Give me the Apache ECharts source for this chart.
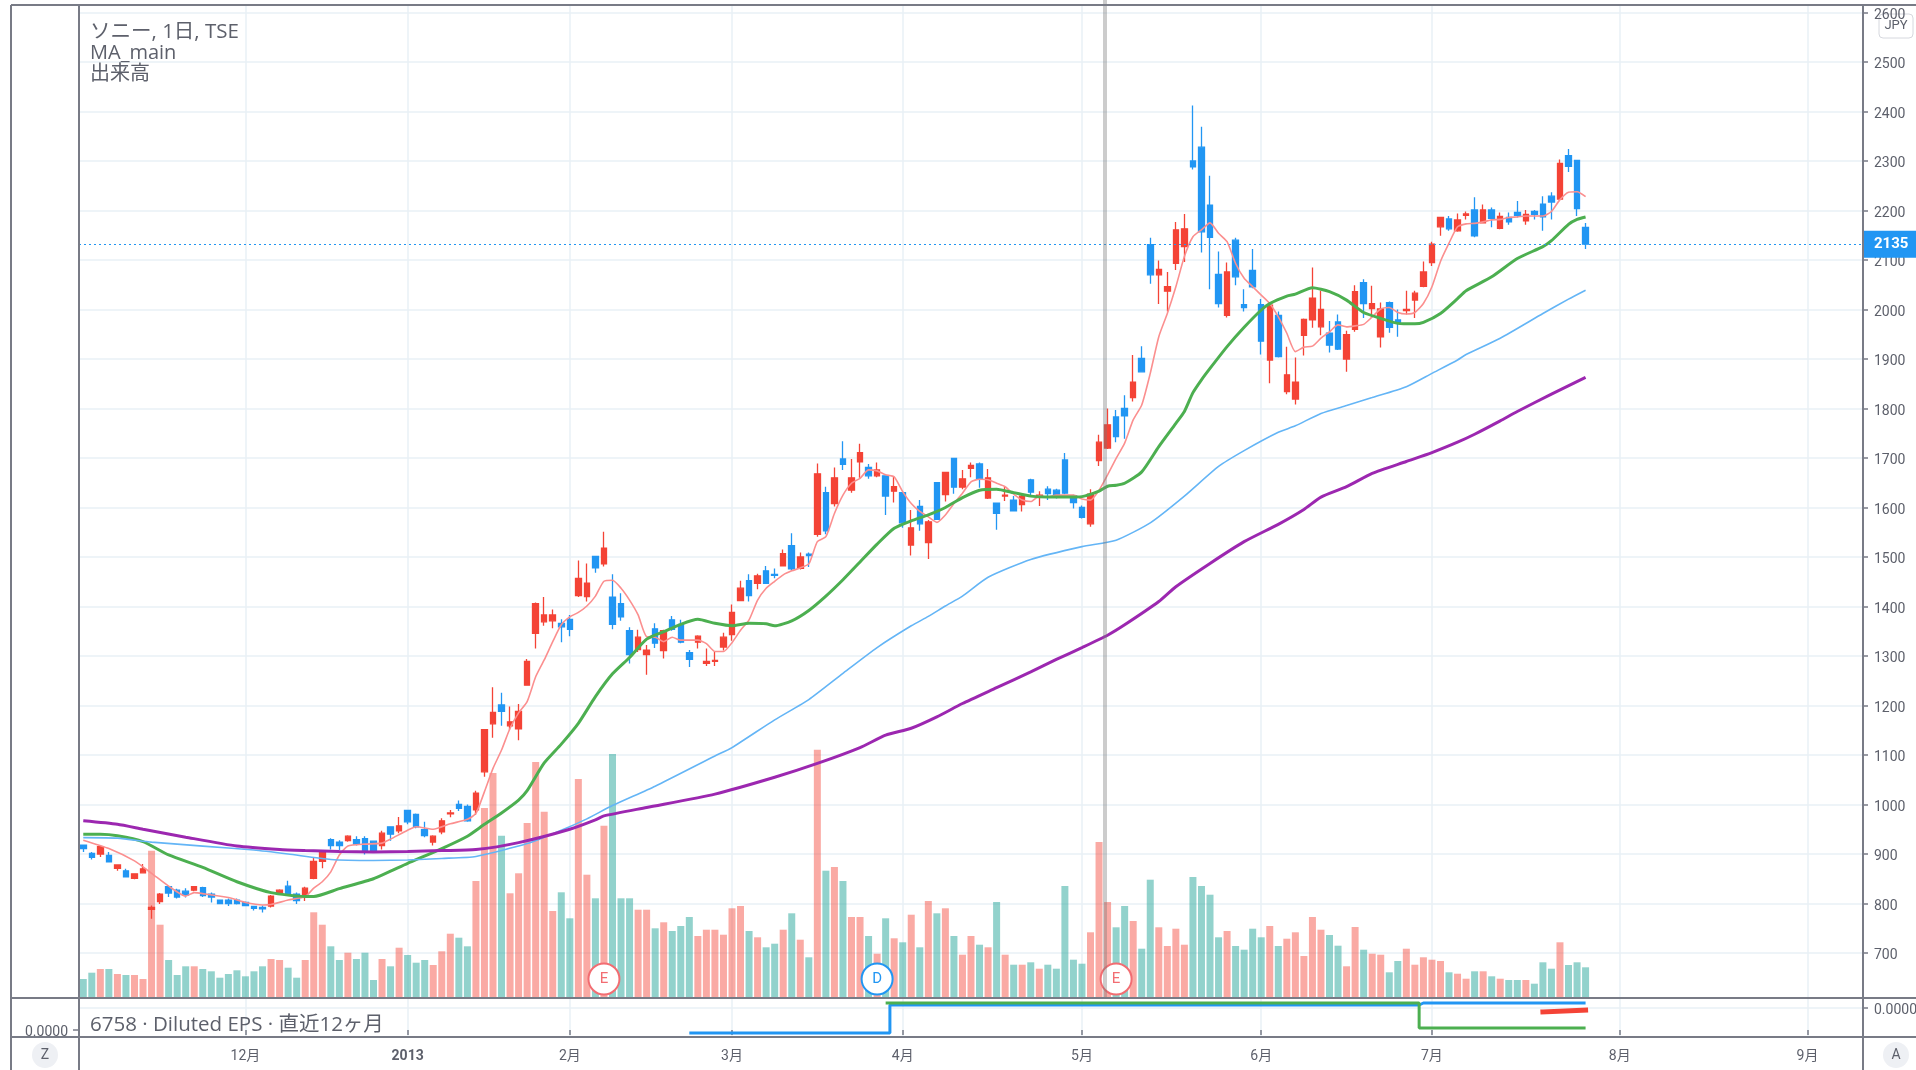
<!DOCTYPE html>
<html>
<head>
<meta charset="utf-8">
<title>ソニー 1日</title>
<script src="https://cdn.jsdelivr.net/npm/echarts@6/dist/echarts.min.js"></script>
<style>
html,body{margin:0;padding:0;background:#fff;overflow:hidden}
#chart{width:1916px;height:1070px}
</style>
</head>
<body>
<div id="chart"></div>
<script>
// bar slots, the right part of the axis stays empty like in the screenshot
var slotCount = 209;
var monthLabels = {19:'12月',38:'2013',57:'2月',76:'3月',96:'4月',117:'5月',138:'6月',158:'7月',180:'8月',202:'9月'};

// open, close, low, high
var candles = [
[918,911,904,918],[901,893,889,904],[900,915,894,916],[897,884,884,904],[871,878,866,879],[866,854,853,870],[851,860,849,861],[862,870,861,880],
[788,792,769,796],[804,819,799,821],[834,821,813,835],[827,813,810,830],[825,817,812,831],[827,834,825,835],[832,816,813,834],[819,813,802,822],
[807,800,799,808],[807,800,795,810],[807,800,798,810],[802,796,795,804],[794,790,786,795],[792,789,782,796],[795,815,792,817],[819,827,817,829],
[835,817,816,846],[819,806,799,822],[813,831,805,834],[851,885,849,893],[885,905,871,907],[929,917,909,932],[924,917,908,928],[927,936,925,938],
[929,920,917,936],[931,904,899,936],[926,904,903,926],[917,942,909,947],[955,940,927,955],[947,957,942,975],[988,965,960,988],[980,955,952,982],
[949,937,934,965],[924,936,917,938],[945,967,940,972],[981,983,974,989],[1000,992,987,1008],[996,967,965,1000],[989,1023,979,1028],[1066,1151,1056,1152],
[1163,1186,1135,1237],[1201,1188,1159,1226],[1159,1167,1151,1198],[1153,1188,1130,1203],[1241,1289,1240,1294],[1346,1406,1315,1408],[1369,1383,1361,1419],[1371,1383,1356,1394],
[1366,1359,1328,1374],[1374,1354,1340,1383],[1422,1457,1419,1493],[1420,1447,1410,1487],[1501,1478,1468,1502],[1486,1518,1481,1551],[1419,1364,1354,1465],[1406,1379,1371,1427],
[1351,1303,1285,1358],[1313,1338,1308,1353],[1303,1312,1262,1322],[1355,1326,1316,1366],[1311,1351,1295,1353],[1373,1354,1351,1381],[1364,1328,1326,1373],[1307,1293,1278,1312],
[1328,1340,1315,1342],[1285,1289,1280,1315],[1289,1291,1280,1309],[1318,1338,1311,1347],[1343,1388,1331,1404],[1412,1437,1412,1452],[1452,1422,1410,1465],[1447,1462,1435,1466],
[1472,1447,1447,1482],[1465,1463,1457,1477],[1482,1507,1481,1515],[1523,1476,1472,1548],[1477,1500,1475,1509],[1506,1503,1480,1509],[1546,1668,1541,1689],[1630,1553,1546,1642],
[1608,1660,1602,1681],[1698,1687,1676,1734],[1635,1660,1630,1698],[1692,1711,1660,1729],[1681,1664,1658,1688],[1664,1676,1661,1691],[1664,1623,1585,1664],[1633,1642,1610,1662],
[1630,1569,1559,1632],[1524,1559,1503,1595],[1602,1567,1553,1615],[1529,1571,1496,1575],[1650,1576,1575,1650],[1626,1671,1612,1672],[1699,1641,1628,1699],[1641,1658,1637,1676],
[1679,1685,1661,1691],[1688,1657,1640,1691],[1619,1660,1617,1678],[1609,1588,1555,1609],[1623,1625,1613,1642],[1615,1593,1592,1623],[1606,1623,1592,1627],[1656,1631,1625,1658],
[1623,1625,1603,1633],[1637,1628,1615,1643],[1635,1625,1618,1638],[1696,1629,1627,1710],[1624,1610,1598,1626],[1600,1580,1578,1604],[1567,1627,1561,1637],[1695,1732,1684,1747],
[1720,1767,1718,1800],[1783,1743,1732,1797],[1800,1785,1739,1827],[1822,1853,1814,1908],[1901,1874,1874,1926],[2131,2070,2052,2145],[2070,2081,2011,2099],[2037,2046,1996,2076],
[2093,2161,2080,2177],[2127,2163,2096,2193],[2300,2288,2283,2412],[2328,2157,2115,2369],[2211,2146,2041,2270],[2071,2012,2004,2117],[1988,2076,1984,2095],[2140,2066,2049,2145],
[2010,2004,1996,2041],[2079,2046,2043,2122],[2010,1936,1909,2021],[1898,2009,1851,2009],[1988,1905,1903,1996],[1834,1868,1829,1925],[1819,1853,1808,1903],[1948,1980,1907,1982],
[1979,2023,1963,2085],[1965,2000,1948,2038],[1952,1928,1913,1977],[1975,1920,1918,1990],[1900,1949,1874,1957],[1960,2036,1955,2049],[2054,2012,1983,2061],[2002,2012,1983,2048],
[1945,2001,1923,2014],[2014,1964,1953,2016],[1979,1972,1945,2000],[1998,2000,1990,2038],[2019,2033,1983,2038],[2047,2076,2045,2097],[2095,2132,2088,2137],[2167,2186,2149,2186],
[2183,2163,2159,2189],[2159,2181,2157,2194],[2190,2193,2182,2198],[2201,2149,2146,2227],[2175,2201,2174,2212],[2201,2184,2166,2206],[2164,2188,2162,2196],[2186,2177,2171,2196],
[2196,2190,2186,2219],[2179,2192,2171,2201],[2198,2192,2182,2201],[2213,2187,2159,2229],[2229,2217,2182,2237],[2223,2295,2221,2303],[2311,2289,2278,2324],[2301,2204,2189,2301],
[2166,2132,2122,2175]
];

var volumes = [
19,25.3,29,29,24,23,23,19,147.3,73.3,38,23,31.7,31.7,29,26.7,20.3,24,27.7,21.7,26.7,31.7,39,38,30.3,20.3,38,85.7,73.3,51.7,38,45.3,39,45.3,18,39,31.7,50.3,43,35.3,
38,33,46.7,64.3,60.3,51.7,117,190,225,162.3,104.7,124.7,175,236,186.3,87,105.7,79.7,219,123.3,99.7,172.3,244,99.7,99.7,88.3,88.3,69.7,75.7,67,72,81,62,68.3,68.3,63.3,89.7,92,67,60.7,
50.7,54.3,68.3,84.7,58.3,40.7,248.3,127.3,131,117,81,81,62,44.3,79.7,59.7,55.7,83.3,50.7,97,84.7,89.7,62,43.3,62,53.3,50.7,96,43.3,33.3,33.3,35.7,29.3,33.3,29.3,112,38.3,34.3,65.7,156,
96,70.7,92,77,49.3,118.3,70.7,52,69.3,53.3,121,112,103.3,60.7,67,52,48.3,69.3,60.7,72,52,59.3,65.7,42,81,68.3,63,52.3,31.7,71,48.3,44.3,43.3,25.7,37,49.3,33.3,40.7,38.3,37,
25.7,24.3,19.3,26.7,26.7,21.7,19.3,18,18,18,14.3,35.7,29.3,55.7,33,35.7,30.7
];

// moving averages: [bar, price]
var maPink = [[0,928],[3,911],[6,886],[8,861],[10,835],[12,815],[13,822],[14,820],[17,812],[19,802],[21,797],[22,798],[24,807],[26,814],[27,831],[28,844],[29,864],[30,898],[31,916],[33,920],[35,922],[36,930],[38,948],[39,955],[41,950],[43,961],[45,970],
[46,982],[47,1026],[48,1073],[49,1110],[50,1154],[51,1185],[52,1208],[53,1258],[54,1292],[55,1329],[56,1363],[57,1379],[58,1388],[59,1401],[60,1421],[61,1451],[62,1453],[63,1437],[64,1413],[65,1383],[66,1339],[67,1338],[68,1329],[69,1338],[70,1332],[71,1332],[72,1332],[73,1325],[74,1309],[75,1309],[76,1327],[77,1352],[78,1373],[79,1413],[80,1437],[81,1451],[82,1464],[83,1472],[84,1478],[85,1486],
[86,1531],[87,1541],[88,1588],[89,1625],[90,1649],[91,1659],[92,1676],[93,1674],[94,1666],[95,1662],[96,1632],[97,1608],[98,1592],[99,1581],[100,1570],[101,1585],[102,1608],[103,1629],[104,1652],[105,1657],[106,1656],[107,1649],[108,1642],[109,1627],[110,1615],[111,1612],[112,1623],[113,1621],[114,1625],[115,1625],[116,1625],[117,1617],[118,1615],[119,1635],[120,1666],[121,1699],[122,1730],[123,1777],
[124,1807],[125,1871],[126,1945],[127,1992],[128,2046],[129,2107],[130,2147],[131,2161],[132,2175],[133,2154],[134,2137],[135,2093],[136,2063],[137,2046],[138,2029],[139,2012],[140,1985],[141,1952],[142,1915],[143,1924],[144,1926],[145,1942],[146,1955],[147,1969],[148,1965],[149,1967],[150,1970],[151,1985],[152,2001],[153,2004],[154,1994],[155,1991],[156,1994],[157,2012],[158,2046],[159,2097],[160,2134],[161,2167],[162,2173],[163,2174],[164,2177],[165,2181],[166,2182],[167,2186],[168,2187],[169,2189],[170,2189],[171,2189],[172,2198],[173,2222],[174,2237],[175,2238],[176,2228]];

var maGreen = [[0,940],[2,940],[4,937],[7,925],[10,898],[14,873],[18,844],[22,822],[26,814],[27,814],[30,830],[34,850],[38,881],[42,911],[45,936],[47,960],[49,983],[51,1009],[52,1028],[54,1084],[56,1122],[58,1164],[60,1218],[62,1264],[64,1297],[66,1334],[68,1349],[70,1364],[72,1374],[74,1366],[76,1361],[78,1366],[80,1365],[81,1361],[83,1371],[85,1392],[87,1421],[89,1454],[91,1490],[93,1526],[95,1558],[97,1573],[99,1585],[101,1600],[103,1620],[105,1635],[107,1637],[109,1630],[111,1623],[113,1621],[115,1621],[117,1622],[119,1633],[120,1643],[121,1645],[122,1649],[124,1672],[126,1723],[128,1770],[129,1794],[130,1832],[131,1858],[132,1881],[134,1925],[136,1964],[138,1999],[139,2012],[141,2027],[142,2031],[144,2044],[146,2036],[148,2019],[150,1994],[152,1982],[154,1972],[156,1971],[157,1974],[159,1992],[161,2022],[162,2038],[165,2066],[168,2103],[171,2127],[172,2139],[174,2172],[175,2182],[176,2187]];

var maBlue = [[0,933],[4,932],[8,924],[14,916],[20,908],[24,900],[29,889],[34,887],[38,888],[42,891],[46,895],[52,921],[56,948],[59,971],[62,998],[67,1037],[74,1098],[76,1115],[81,1171],[85,1212],[89,1265],[93,1317],[97,1361],[99,1380],[101,1401],[103,1421],[106,1459],[111,1495],[117,1521],[121,1534],[125,1569],[129,1623],[133,1683],[136,1715],[140,1752],[142,1765],[145,1790],[148,1806],[151,1822],[155,1844],[158,1871],[161,1898],[162,1909],[166,1942],[171,1992],[174,2021],[176,2039]];

var maPurple = [[0,967],[4,960],[7,950],[12,934],[18,916],[23,909],[26,907],[30,905],[34,904],[38,905],[42,907],[46,909],[51,923],[57,950],[60,969],[61,977],[66,994],[74,1021],[81,1055],[86,1083],[91,1115],[94,1140],[97,1154],[100,1177],[103,1204],[107,1236],[111,1268],[114,1293],[117,1317],[120,1342],[122,1363],[126,1410],[128,1440],[132,1487],[136,1531],[140,1566],[143,1596],[145,1621],[148,1642],[151,1669],[155,1693],[158,1711],[161,1732],[163,1748],[166,1775],[168,1794],[172,1829],[176,1863]];

// lower pane
var epsBlue = [[71,-0.0003],[94,-0.0003],[95,0.0025],[156,0.0025],[157,0.0027],[176,0.0027]];
var epsGreen = [[94,0.0027],[156,0.0027],[157,0.0002],[176,0.0002]];
var epsRed = [[171,-0.0004],[176,-0.0002]];

var events = [[61,'E'],[93,'D'],[121,'E']];
var lastPriceLabel = '2135';
var lastPriceLevel = 2132;

var upColor = '#f44336';
var downColor = '#2196f3';
var textColor = '#5d606b';
var lineColor = '#787b86';
var gridColor = '#e9f0f6';
var fontName = 'Roboto, "Noto Sans CJK JP", sans-serif';
var legendFont = '"Open Sans", "Noto Sans CJK JP", sans-serif';

var categories = [];
for (var i = 0; i < slotCount; i++) categories.push(monthLabels[i] || '');
function isMonth(index) { return !!monthLabels[index]; }

// the axis labels sit slightly lower than their ticks in the original
var shiftedLabel = {a:{padding:[5,0,0,0], color:textColor, fontSize:14, fontFamily:fontName}};

function frameLine(x1, y1, x2, y2) {
    return {type:'line', z:20, silent:true, shape:{x1:x1,y1:y1,x2:x2,y2:y2}, style:{stroke:lineColor, lineWidth:2}};
}
function frameText(x, y, str, size) {
    return {type:'text', z:30, silent:true, x:x, y:y, style:{text:str, fill:textColor, font:size+'px '+legendFont, textVerticalAlign:'middle'}};
}
function roundButton(cx, cy, str) {
    return {type:'group', z:30, silent:true, children:[
        {type:'circle', shape:{cx:cx,cy:cy,r:13}, style:{fill:'#eef0f4'}},
        {type:'text', x:cx, y:cy, style:{text:str, fill:textColor, font:'14px '+fontName, textAlign:'center', textVerticalAlign:'middle'}}
    ]};
}

var myChart = echarts.init(document.getElementById('chart'));
var option = {
    animation: false,
    backgroundColor: '#fff',
    grid: [
        {left:79, width:1784, top:12.5, height:990, outerBoundsMode:'none'},
        {left:79, width:1784, top:5, height:993, outerBoundsMode:'none'},
        {left:79, width:1784, top:998, height:39, outerBoundsMode:'none'}
    ],
    xAxis: [
        {type:'category', gridIndex:0, data:categories, show:false},
        {type:'category', gridIndex:1, data:categories,
            axisLine:{show:false}, axisTick:{show:false}, axisLabel:{show:false},
            splitLine:{show:true, alignWithLabel:true, interval:function(i){return isMonth(i);}, lineStyle:{color:gridColor, width:1.5}}},
        {type:'category', gridIndex:2, data:categories,
            axisLine:{show:false},
            axisTick:{show:true, length:5, alignWithLabel:true, interval:function(i){return isMonth(i);}, lineStyle:{color:lineColor, width:1.5}},
            splitLine:{show:true, alignWithLabel:true, interval:function(i){return isMonth(i);}, lineStyle:{color:gridColor, width:1.5}},
            axisLabel:{interval:function(i){return isMonth(i);}, margin:12, color:textColor, fontSize:14, fontFamily:fontName, hideOverlap:false,
                formatter:function(v){return v === '2013' ? '{b|2013}' : v;},
                rich:{b:{fontWeight:'bold', fontSize:14, color:textColor, fontFamily:fontName}}}}
    ],
    yAxis: [
        {type:'value', gridIndex:0, position:'right', min:600, max:2600, interval:100,
            axisLine:{show:false}, axisTick:{show:true, length:5, lineStyle:{color:lineColor, width:1.5}},
            axisLabel:{margin:11, showMinLabel:false, rich:shiftedLabel, formatter:function(v){return '{a|'+v+'}';}},
            splitLine:{show:true, showMinLine:false, lineStyle:{color:gridColor, width:1.5}}},
        {type:'value', gridIndex:1, min:0, max:993, show:false, splitLine:{show:false}},
        {type:'value', gridIndex:2, position:'left', min:-0.0007, max:0.0032,
            axisLine:{show:false}, axisTick:{show:true, length:6, customValues:[0], lineStyle:{color:lineColor, width:1.5}},
            axisLabel:{customValues:[0], margin:11, rich:shiftedLabel, formatter:function(v){return '{a|'+v.toFixed(4)+'}';}},
            splitLine:{show:false}},
        {type:'value', gridIndex:2, position:'right', min:-0.0029, max:0.001,
            axisLine:{show:false}, axisTick:{show:true, length:5, customValues:[0], lineStyle:{color:lineColor, width:1.5}},
            axisLabel:{customValues:[0], margin:11, rich:shiftedLabel, formatter:function(v){return '{a|'+v.toFixed(4)+'}';}},
            splitLine:{show:true, lineStyle:{color:gridColor, width:1.5}}}
    ],
    series: [
        {
            name:'出来高', type:'bar', xAxisIndex:1, yAxisIndex:1, barWidth:7, z:1, silent:true,
            data: volumes.map(function(v, k){
                var up = candles[k][1] >= candles[k][0];
                return {value:v, itemStyle:{color: up ? 'rgba(244,67,54,0.45)' : 'rgba(38,166,154,0.5)'}};
            })
        },
        {
            name:'ソニー', type:'candlestick', xAxisIndex:0, yAxisIndex:0, barWidth:6, z:3, silent:true,
            itemStyle:{color:upColor, color0:downColor, borderColor:upColor, borderColor0:downColor, borderWidth:1.3},
            data:candles,
            markLine:{
                silent:true, symbol:'none', animation:false,
                lineStyle:{color:downColor, type:[2,3], width:1.2},
                label:{show:true, position:'end', distance:0, formatter:lastPriceLabel, color:'#fff', fontSize:15, fontWeight:'bold', fontFamily:fontName,
                    backgroundColor:downColor, padding:[7,11,5,11]},
                data:[{yAxis:lastPriceLevel}]
            }
        },
        {name:'MA1', type:'line', xAxisIndex:0, yAxisIndex:0, z:4, silent:true, showSymbol:false, smooth:0.2, data:maPink, lineStyle:{color:'#fb8f8f', width:1.6}},
        {name:'MA2', type:'line', xAxisIndex:0, yAxisIndex:0, z:4, silent:true, showSymbol:false, smooth:0.2, data:maGreen, lineStyle:{color:'#4caf50', width:3}},
        {name:'MA3', type:'line', xAxisIndex:0, yAxisIndex:0, z:4, silent:true, showSymbol:false, smooth:0.2, data:maBlue, lineStyle:{color:'#64b5f6', width:1.6}},
        {name:'MA4', type:'line', xAxisIndex:0, yAxisIndex:0, z:4, silent:true, showSymbol:false, smooth:0.2, data:maPurple, lineStyle:{color:'#9c27b0', width:3}},
        {
            name:'events', type:'scatter', xAxisIndex:1, yAxisIndex:1, z:6, silent:true, symbol:'circle', symbolSize:31,
            data: events.map(function(e){
                var c = e[1] === 'D' ? '#2196f3' : '#f26d72';
                return {value:[e[0],19], itemStyle:{color:'#fff', opacity:1, borderColor:c, borderWidth:2},
                    label:{show:true, position:'inside', formatter:e[1], color:c, fontSize:15, fontFamily:fontName}};
            })
        },
        {name:'EPS', type:'line', xAxisIndex:2, yAxisIndex:2, z:4, silent:true, step:'middle', showSymbol:false, data:epsBlue, lineStyle:{color:'#2196f3', width:3}},
        {name:'EPS est', type:'line', xAxisIndex:2, yAxisIndex:2, z:5, silent:true, step:'middle', showSymbol:false, data:epsGreen, lineStyle:{color:'#4caf50', width:3}},
        {name:'EPS last', type:'line', xAxisIndex:2, yAxisIndex:3, z:5, silent:true, showSymbol:false, data:epsRed, lineStyle:{color:'#f44336', width:5, cap:'square'}}
    ],
    graphic: [
        frameLine(11, 5, 1916, 5),
        frameLine(11, 5, 11, 1070),
        frameLine(79, 5, 79, 1070),
        frameLine(1863, 5, 1863, 1070),
        frameLine(11, 998, 1916, 998),
        frameLine(11, 1037, 1916, 1037),
        // grey session marker
        {type:'rect', z:10, silent:true, shape:{x:1103,y:0,width:4,height:998}, style:{fill:'rgba(120,120,120,0.38)'}},
        frameText(90, 32, 'ソニー, 1日, TSE', 20.5),
        frameText(90, 53, 'MA_main', 20),
        frameText(90, 74, '出来高', 20),
        frameText(90, 1025, '6758 · Diluted EPS · 直近12ヶ月', 20.5),
        roundButton(45, 1055, 'Z'),
        roundButton(1896, 1055, 'A'),
        {type:'group', z:30, silent:true, children:[
            {type:'rect', shape:{x:1879,y:14,width:34,height:24,r:4}, style:{fill:'#fff', stroke:'#d6d8de', lineWidth:1}},
            {type:'text', x:1896, y:26, style:{text:'JPY', fill:textColor, font:'13px '+fontName, textAlign:'center', textVerticalAlign:'middle'}}
        ]}
    ]
};
myChart.setOption(option);
</script>
</body>
</html>
